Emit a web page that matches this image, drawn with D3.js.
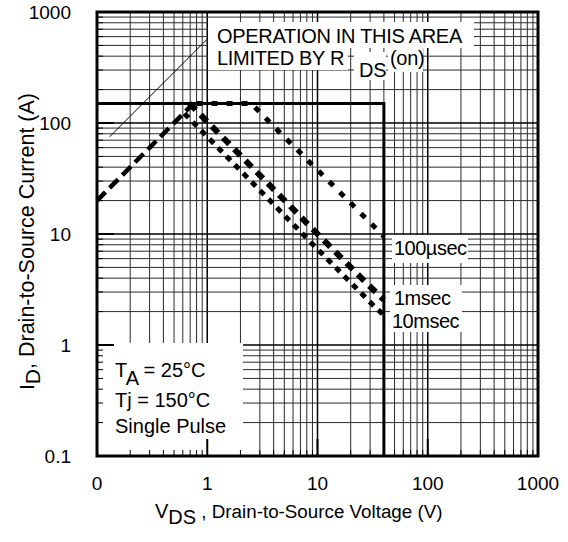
<!DOCTYPE html>
<html lang="en">
<head>
  <meta charset="UTF-8">
  <title>Maximum Safe Operating Area</title>
  <style>
    body {
      margin: 0;
      padding: 0;
      background-color: #ffffff;
    }

    svg text {
      font-family: 'Liberation Sans', Arial, sans-serif;
      fill: #000;
    }

    .grid-minor {
      stroke: #2a2a2a;
      stroke-width: 1px;
    }

    .grid-major {
      stroke: #000;
      stroke-width: 1.5px;
    }
  </style>
</head>
<body>
  <svg width="568" height="542"></svg>

  <script src="https://d3js.org/d3.v7.min.js"></script>
  <script>
    // axis ticks and labels
    const xTicks = [0.1, 1, 10, 100, 1000];
    const xTickLabels = ["0", "1", "10", "100", "1000"];
    const yTicks = [0.1, 1, 10, 100, 1000];
    const yTickLabels = ["0.1", "1", "10", "100", "1000"];

    // curves, [VDS (V), ID (A)]
    const rdsLimit = [[0.1, 20], [0.3, 60], [0.72, 144]];
    const packageLimit = [[0.1, 150], [40, 150], [40, 0.1]];
    const pulse100us = [[0.8, 150], [2.5, 150], [4.8, 78], [20, 19], [40, 9.5]];
    const pulse1ms = [[0.69, 150], [9.1, 11], [28.7, 3.5], [40, 2.55]];
    const pulse10ms = [[0.62, 122], [13.5, 5.4], [31, 2.35], [40, 1.85]];

    const curveLabels = ["100µsec", "1msec", "10msec"];

    const svg = d3.select("svg");

    const x = d3.scaleLog().domain([0.1, 1000]).range([97, 538]);
    const y = d3.scaleLog().domain([0.1, 1000]).range([456, 12]);

    // grid: every 1..9 inside each decade
    const gridVals = [];
    for (let e = -1; e < 3; e++) {
      for (let k = 1; k < 10; k++) gridVals.push(k * Math.pow(10, e));
    }
    gridVals.push(1000);
    const isDecade = (v) => Math.abs(Math.log10(v) - Math.round(Math.log10(v))) < 1e-9;

    const grid = svg.append("g");
    grid.selectAll(".vline")
      .data(gridVals)
      .enter()
      .append("line")
      .attr("class", (d) => isDecade(d) ? "grid-major" : "grid-minor")
      .attr("x1", (d) => x(d)).attr("x2", (d) => x(d))
      .attr("y1", y(1000)).attr("y2", y(0.1));

    grid.selectAll(".hline")
      .data(gridVals)
      .enter()
      .append("line")
      .attr("class", (d) => isDecade(d) ? "grid-major" : "grid-minor")
      .attr("y1", (d) => y(d)).attr("y2", (d) => y(d))
      .attr("x1", x(0.1)).attr("x2", x(1000));

    // white boxes that hide the grid behind the annotations
    const boxes = svg.append("g").attr("fill", "#fff");
    boxes.append("rect").attr("x", 208).attr("y", 22).attr("width", 266).attr("height", 26);
    boxes.append("rect").attr("x", 208).attr("y", 48).attr("width", 140).attr("height", 22);
    boxes.append("rect").attr("x", 354).attr("y", 52).attr("width", 32).attr("height", 28);
    boxes.append("rect").attr("x", 388).attr("y", 46).attr("width", 35).attr("height", 26);
    boxes.append("rect").attr("x", 392).attr("y", 235).attr("width", 76).attr("height", 28);
    boxes.append("rect").attr("x", 390).attr("y", 285).attr("width", 72).attr("height", 24);
    boxes.append("rect").attr("x", 390).attr("y", 309).attr("width", 72).attr("height", 23);
    boxes.append("rect").attr("x", 99).attr("y", 343).attr("width", 144).attr("height", 112);

    // inside ticks
    const ticks = svg.append("g").attr("stroke", "#000");
    ticks.selectAll(".ty")
      .data(gridVals)
      .enter()
      .append("line")
      .attr("x1", x(0.1))
      .attr("x2", (d) => x(0.1) + (isDecade(d) ? 17 : 6))
      .attr("y1", (d) => y(d)).attr("y2", (d) => y(d))
      .attr("stroke-width", (d) => isDecade(d) ? 2 : 1);
    ticks.selectAll(".tx")
      .data(gridVals)
      .enter()
      .append("line")
      .attr("y1", y(0.1))
      .attr("y2", (d) => y(0.1) - (isDecade(d) ? 17 : 6))
      .attr("x1", (d) => x(d)).attr("x2", (d) => x(d))
      .attr("stroke-width", (d) => isDecade(d) ? 2 : 1);

    const line = d3.line().x((d) => x(d[0])).y((d) => y(d[1]));

    // package / limit box
    svg.append("path")
      .attr("d", line(packageLimit))
      .attr("fill", "none")
      .attr("stroke", "#000")
      .attr("stroke-width", 3);

    svg.append("path")
      .attr("d", line(rdsLimit))
      .attr("fill", "none")
      .attr("stroke", "#000")
      .attr("stroke-width", 4.5)
      .attr("stroke-dasharray", "12,6");

    svg.append("path")
      .attr("d", line(pulse100us))
      .attr("fill", "none")
      .attr("stroke", "#000")
      .attr("stroke-width", 5)
      .attr("stroke-dasharray", "6,9");

    svg.append("path")
      .attr("d", line(pulse1ms))
      .attr("fill", "none")
      .attr("stroke", "#000")
      .attr("stroke-width", 6)
      .attr("stroke-dasharray", "9,7");

    svg.append("path")
      .attr("d", line(pulse10ms))
      .attr("fill", "none")
      .attr("stroke", "#000")
      .attr("stroke-width", 5)
      .attr("stroke-dasharray", "6,6");

    // pointer line of the RDS(on) note
    svg.append("line")
      .attr("x1", x(0.13)).attr("y1", y(75))
      .attr("x2", x(1.0)).attr("y2", y(570))
      .attr("stroke", "#000")
      .attr("stroke-width", 1);

    // plot border
    svg.append("rect")
      .attr("x", x(0.1)).attr("y", y(1000))
      .attr("width", x(1000) - x(0.1))
      .attr("height", y(0.1) - y(1000))
      .attr("fill", "none")
      .attr("stroke", "#000")
      .attr("stroke-width", 3);

    // tick labels
    svg.append("g").selectAll("text")
      .data(xTicks)
      .enter()
      .append("text")
      .attr("x", (d) => x(d))
      .attr("y", 490)
      .attr("text-anchor", "middle")
      .attr("font-size", 19)
      .text((d, i) => xTickLabels[i]);

    svg.append("g").selectAll("text")
      .data(yTicks)
      .enter()
      .append("text")
      .attr("x", 71)
      .attr("y", (d) => y(d))
      .attr("dy", "0.36em")
      .attr("text-anchor", "end")
      .attr("font-size", 19)
      .text((d, i) => yTickLabels[i]);

    // axis titles
    const xTitle = svg.append("text")
      .attr("x", 155).attr("y", 518)
      .attr("font-size", 20);
    xTitle.append("tspan").text("V");
    xTitle.append("tspan").attr("dy", 6).text("DS");
    xTitle.append("tspan").attr("dy", -6).attr("font-size", 18.8).text(" , Drain-to-Source Voltage (V)");

    const yTitle = svg.append("text")
      .attr("transform", "translate(34,390) rotate(-90)")
      .attr("font-size", 21);
    yTitle.append("tspan").text("I");
    yTitle.append("tspan").attr("dy", 6).text("D");
    yTitle.append("tspan").attr("dy", -6).attr("font-size", 21.5).text(",  Drain-to-Source Current (A)");

    // RDS(on) note
    svg.append("text")
      .attr("x", 217).attr("y", 43)
      .attr("font-size", 20)
      .attr("letter-spacing", "-0.3px")
      .text("OPERATION IN THIS AREA");
    const note2 = svg.append("text")
      .attr("x", 217).attr("y", 65)
      .attr("font-size", 20)
      .attr("letter-spacing", "-0.3px");
    note2.append("tspan").text("LIMITED BY R");
    note2.append("tspan").attr("x", 359).attr("dy", 12).text("DS");
    note2.append("tspan").attr("x", 390).attr("dy", -12).text("(on)");

    // curve labels
    const labelY = [255, 305, 328];
    const labelX = [394, 394, 392];
    svg.append("g").selectAll("text")
      .data(curveLabels)
      .enter()
      .append("text")
      .attr("x", (d, i) => labelX[i])
      .attr("y", (d, i) => labelY[i])
      .attr("font-size", 20)
      .attr("letter-spacing", "-0.5px")
      .text((d) => d);

    // conditions
    const cond = svg.append("g").attr("font-size", 20);
    const c1 = cond.append("text").attr("x", 115).attr("y", 377);
    c1.append("tspan").text("T");
    c1.append("tspan").attr("dy", 8).text("A");
    c1.append("tspan").attr("dy", -8).text(" = 25°C");
    cond.append("text").attr("x", 115).attr("y", 407).text("Tj = 150°C");
    cond.append("text").attr("x", 115).attr("y", 433).text("Single Pulse");
  </script>
</body>
</html>
